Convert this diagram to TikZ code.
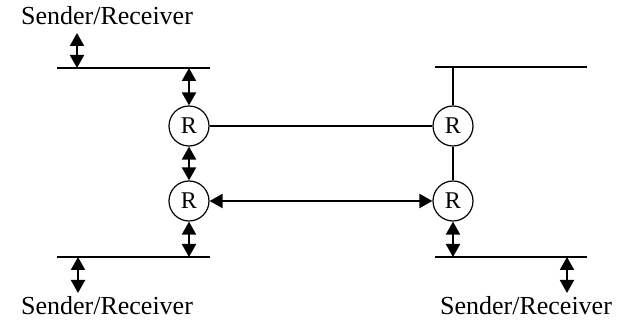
\documentclass[tikz,border=0pt]{standalone}
\usepackage{fontspec}
\setmainfont{Liberation Serif}
\usetikzlibrary{arrows.meta}
\begin{document}
\begin{tikzpicture}[x=1pt,y=-1pt,
  router/.style={circle,draw,line width=1.2pt,minimum size=40pt,inner sep=0pt,font=\fontsize{24}{24}\selectfont},
  bus/.style={line width=2pt},
  link/.style={line width=2pt},
  both/.style={line width=2pt,{Triangle[length=13pt,width=14pt]}-{Triangle[length=13pt,width=14pt]}},
  lbl/.style={anchor=base,inner sep=0pt,font=\fontsize{26}{26}\selectfont}]
\useasboundingbox (0,0) rectangle (625,320);

% shared media (segments)
\coordinate (tlA) at (57,68);  \coordinate (tlB) at (210,68);
\coordinate (blA) at (57,257); \coordinate (blB) at (210,257);
\coordinate (trA) at (435,67); \coordinate (trB) at (587,67);
\coordinate (brA) at (435,257); \coordinate (brB) at (587,257);
\draw[bus] (tlA) -- (tlB);
\draw[bus] (blA) -- (blB);
\draw[bus] (trA) -- (trB);
\draw[bus] (brA) -- (brB);

% routers
\node[router] (L1) at (189,126) {R};
\node[router] (L2) at (189,201) {R};
\node[router] (R1) at (453,126) {R};
\node[router] (R2) at (453,201) {R};

% attachment points on the segments
\coordinate (tlJ) at (189,68);
\coordinate (blJ) at (189,257);
\coordinate (trJ) at (453,67);
\coordinate (brJ) at (453,257);

% hosts
\node[lbl] (s1) at (107,25) {Sender/Receiver};
\node[lbl] (s2) at (107,315) {Sender/Receiver};
\node[lbl] (s3) at (526,315) {Sender/Receiver};
\coordinate (s1J) at (77,68);
\coordinate (s1T) at (77,33);
\coordinate (s2J) at (78,257);
\coordinate (s2T) at (78,293);
\coordinate (s3J) at (567,257);
\coordinate (s3T) at (567,293);

% host attachments
\draw[both] (s1T) -- (s1J);
\draw[both] (s2J) -- (s2T);
\draw[both] (s3J) -- (s3T);

% left side
\draw[both] (tlJ) -- (L1);
\draw[both] (L1) -- (L2);
\draw[both] (L2) -- (blJ);

% right side
\draw[link] (trJ) -- (R1);
\draw[link] (R1) -- (R2);
\draw[both] (R2) -- (brJ);

% links between the sides
\draw[link] (L1) -- (R1);
\draw[both] (L2) -- (R2);
\end{tikzpicture}
\end{document}
